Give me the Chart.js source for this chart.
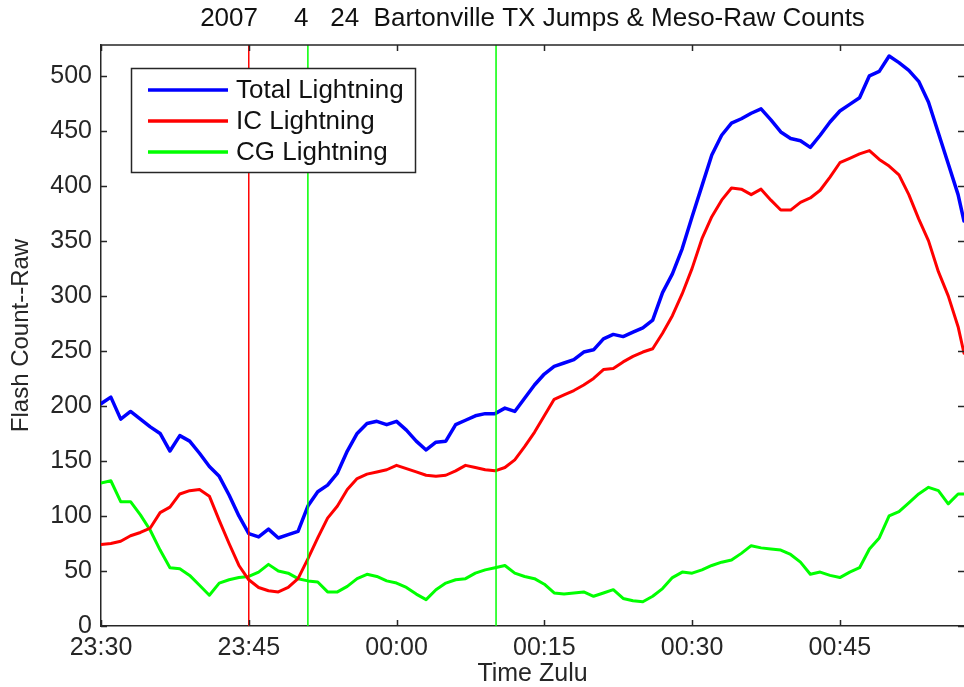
<!DOCTYPE html>
<html lang="en">
<head>
<meta charset="UTF-8">
<title>Bartonville TX Jumps &amp; Meso-Raw Counts</title>
<script src="https://cdn.jsdelivr.net/npm/chart.js"></script>
<style>
  body { margin: 0; background: #fff; }
  #chart { display: block; }
</style>
</head>
<body>
<canvas id="chart" width="964" height="687"></canvas>
<script>
// minutes after 23:30 Z
const minutes = [0,1,2,3,4,5,6,7,8,9,10,11,12,13,14,15,16,17,18,19,
  20,21,22,23,24,25,26,27,28,29,30,31,32,33,34,35,36,37,38,39,
  40,41,42,43,44,45,46,47,48,49,50,51,52,53,54,55,56,57,58,59,
  60,61,62,63,64,65,66,67,68,69,70,71,72,73,74,75,76,77,78,79,
  80,81,82,83,84,85,86,87,87.6];

const totalLightning = [202,208,188,195,188,181,175,159,173,168,
  157,145,136,119,100,84,81,88,80,83,
  86,109,122,128,139,159,175,184,186,183,
  186,178,168,160,167,168,183,187,191,193,
  193,198,195,207,219,229,236,239,242,249,
  251,261,265,263,267,271,278,303,320,343,
  372,400,428,446,457,461,466,470,460,449,
  443,441,435,446,458,468,474,480,500,504,
  518,512,505,495,476,448,420,392,368];

const icLightning = [74,75,77,82,85,89,103,108,120,123,
  124,118,96,75,55,42,35,32,31,35,
  43,61,80,98,109,124,134,138,140,142,
  146,143,140,137,136,137,141,146,144,142,
  141,144,151,163,176,191,206,210,214,219,
  225,233,234,240,245,249,252,266,282,302,
  325,352,372,387,398,397,392,397,387,378,
  378,385,389,396,408,421,425,429,432,424,
  418,410,392,370,350,322,300,272,248];

const cgLightning = [130,132,113,113,101,87,69,53,52,46,
  37,28,39,42,44,45,49,56,50,48,
  43,41,40,31,31,36,43,47,45,41,
  39,35,29,24,33,39,42,43,48,51,
  53,55,48,45,43,38,30,29,30,31,
  27,30,33,25,23,22,27,34,44,49,
  48,51,55,58,60,66,73,71,70,69,
  65,58,47,49,46,44,49,53,70,80,
  100,104,112,120,126,123,111,120,120];

const xTickValues = [0, 15, 30, 45, 60, 75];
const xTickLabels = ['23:30', '23:45', '00:00', '00:15', '00:30', '00:45'];
const yTickValues = [0, 50, 100, 150, 200, 250, 300, 350, 400, 450, 500];

// jump times (minutes after 23:30)
const icJumpTimes = [15];
const cgJumpTimes = [21, 40.1];

const X_MAX = 87.6;
const Y_MAX = 528;
const FONT = '"Liberation Sans", Arial, sans-serif';
const INK = '#262626';

Chart.defaults.font.family = FONT;
Chart.defaults.font.size = 25;
Chart.defaults.color = INK;

const pts = vals => vals.map((v, i) => ({ x: minutes[i], y: v }));

const series = [
  { label: 'Total Lightning', data: pts(totalLightning), borderColor: '#0000ff', borderWidth: 3.5, order: 1 },
  { label: 'IC Lightning', data: pts(icLightning), borderColor: '#ff0000', borderWidth: 3, order: 2 },
  { label: 'CG Lightning', data: pts(cgLightning), borderColor: '#00ff00', borderWidth: 3, order: 3 }
];

const marks = [];
icJumpTimes.forEach(t => marks.push({ label: '', data: [{ x: t, y: 0 }, { x: t, y: Y_MAX }], borderColor: '#ff0000', borderWidth: 1.5, order: 0 }));
cgJumpTimes.forEach(t => marks.push({ label: '', data: [{ x: t, y: 0 }, { x: t, y: Y_MAX }], borderColor: '#00ff00', borderWidth: 1.5, order: 0 }));

// title centred over the plot box, like matlab
const titlePlugin = {
  id: 'plotTitle',
  afterDraw(chart) {
    const { ctx, chartArea } = chart;
    ctx.save();
    ctx.font = '26px ' + FONT;
    ctx.fillStyle = '#111';
    ctx.textAlign = 'center';
    ctx.textBaseline = 'middle';
    ctx.fillText('2007     4   24  Bartonville TX Jumps & Meso-Raw Counts', (chartArea.left + chartArea.right) / 2, 19);
    ctx.restore();
  }
};

// top border and inward tick marks on all sides
const framePlugin = {
  id: 'frame',
  afterDraw(chart) {
    const { ctx, chartArea: a, scales } = chart;
    const len = 6;
    ctx.save();
    ctx.strokeStyle = INK;
    ctx.lineWidth = 1.5;
    ctx.beginPath();
    ctx.moveTo(a.left, a.top);
    ctx.lineTo(a.right, a.top);
    xTickValues.forEach(v => {
      const x = Math.round(scales.x.getPixelForValue(v)) + 0.5;
      ctx.moveTo(x, a.bottom); ctx.lineTo(x, a.bottom - len);
      ctx.moveTo(x, a.top); ctx.lineTo(x, a.top + len);
    });
    yTickValues.forEach(v => {
      const y = Math.round(scales.y.getPixelForValue(v)) + 0.5;
      ctx.moveTo(a.left, y); ctx.lineTo(a.left + len, y);
      ctx.moveTo(a.right, y); ctx.lineTo(a.right - len, y);
    });
    ctx.stroke();
    ctx.restore();
  }
};

// boxed legend in the upper left, covering the jump lines
const legendPlugin = {
  id: 'boxLegend',
  afterDraw(chart) {
    const { ctx, chartArea: a } = chart;
    const left = a.left + 30, top = a.top + 23, w = 284, h = 104;
    ctx.save();
    ctx.fillStyle = '#fff';
    ctx.fillRect(left, top, w, h);
    ctx.strokeStyle = INK;
    ctx.lineWidth = 1.5;
    ctx.strokeRect(left + 0.5, top + 0.5, w, h);
    ctx.font = '26px ' + FONT;
    ctx.textBaseline = 'middle';
    ctx.textAlign = 'left';
    series.forEach((ds, i) => {
      const y = top + 22 + i * 31;
      ctx.strokeStyle = ds.borderColor;
      ctx.lineWidth = 3.5;
      ctx.beginPath();
      ctx.moveTo(left + 17, y);
      ctx.lineTo(left + 97, y);
      ctx.stroke();
      ctx.fillStyle = '#111';
      ctx.fillText(ds.label, left + 105, y + 1);
    });
    ctx.restore();
  }
};

new Chart(document.getElementById('chart'), {
  type: 'line',
  data: { datasets: marks.concat(series) },
  options: {
    responsive: false,
    animation: false,
    layout: { padding: { top: 45, right: 0, left: 0, bottom: 0 } },
    elements: {
      point: { radius: 0 },
      line: { tension: 0, fill: false, borderJoinStyle: 'round', borderCapStyle: 'round' }
    },
    plugins: {
      legend: { display: false },
      tooltip: { enabled: false },
      title: { display: false }
    },
    scales: {
      x: {
        type: 'linear',
        min: 0,
        max: X_MAX,
        grid: { display: false, drawTicks: false },
        border: { display: true, color: INK, width: 1.5 },
        afterBuildTicks: s => { s.ticks = xTickValues.map(v => ({ value: v })); },
        afterFit: s => { s.height = 61; },
        ticks: {
          padding: 7,
          maxRotation: 0,
          autoSkip: false,
          callback: (v, i) => xTickLabels[i]
        },
        title: { display: true, text: 'Time Zulu', font: { size: 25, lineHeight: 1.05 }, padding: { top: 0, bottom: 0 } }
      },
      y: {
        min: 0,
        max: Y_MAX,
        grid: { display: false, drawTicks: false },
        border: { display: true, color: INK, width: 1.5 },
        afterBuildTicks: s => { s.ticks = yTickValues.map(v => ({ value: v })); },
        afterFit: s => { s.width = 101; },
        ticks: { padding: 9, autoSkip: false },
        title: { display: true, text: 'Flash Count--Raw', font: { size: 24 }, padding: { top: 7, bottom: 0 } }
      }
    }
  },
  plugins: [titlePlugin, framePlugin, legendPlugin]
});
</script>
</body>
</html>
